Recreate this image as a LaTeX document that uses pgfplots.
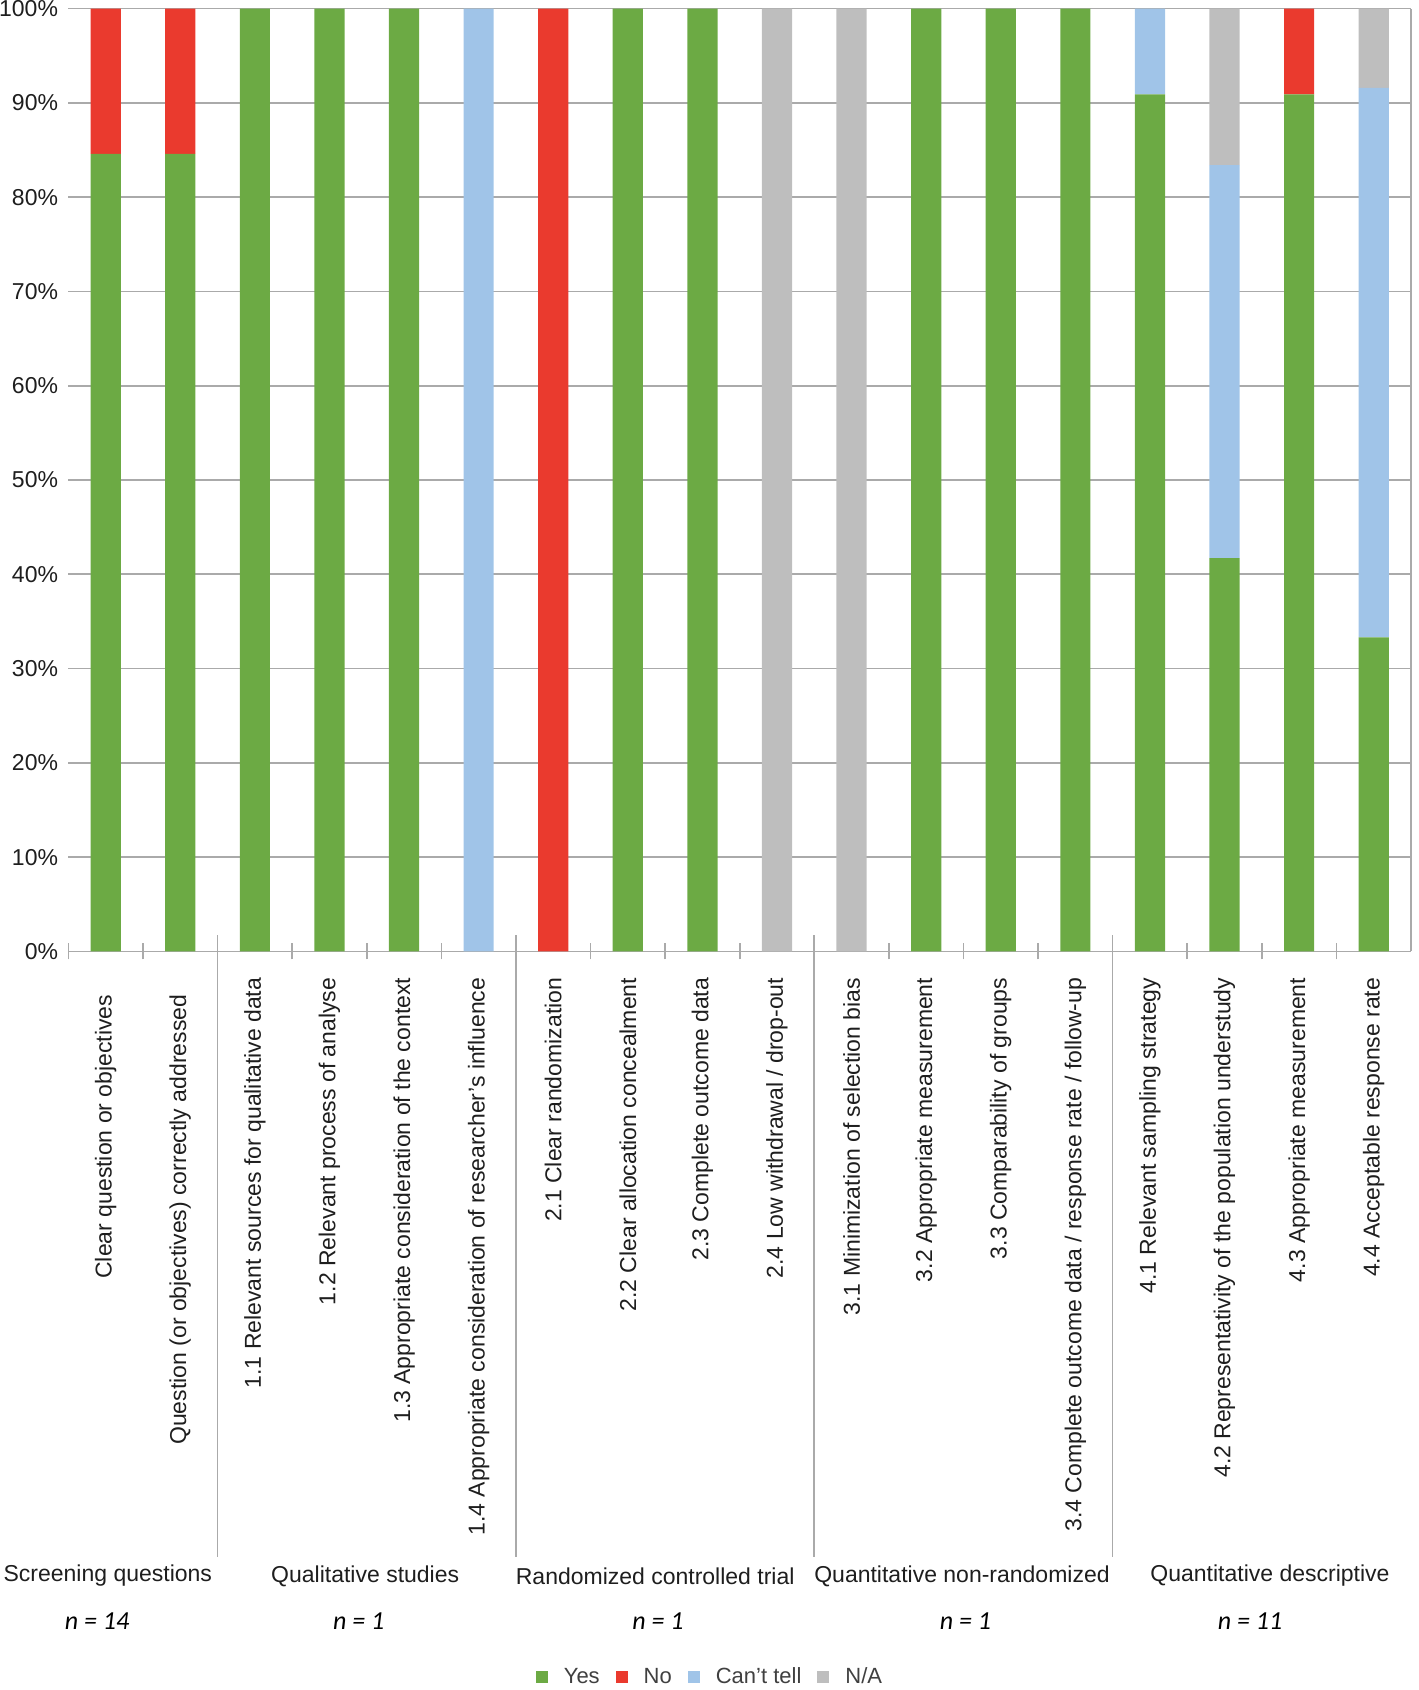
\documentclass[border=0pt]{standalone}
\usepackage{pgfplots}
\pgfplotsset{compat=1.18}
\usepackage{fontspec}
\setmainfont{Liberation Sans}
\newfontfamily\calfont{Carlito}
\definecolor{cyes}{RGB}{108,170,68}
\definecolor{cno}{RGB}{234,58,46}
\definecolor{cct}{RGB}{160,196,232}
\definecolor{cna}{RGB}{190,190,190}
\definecolor{cgrid}{RGB}{170,170,170}
\definecolor{ctxt}{RGB}{30,30,30}
\begin{document}
\begin{tikzpicture}
\useasboundingbox (0,0) rectangle (709pt,845pt);
\begin{axis}[
  at={(34.2pt,369.3pt)}, anchor=south west,
  scale only axis, width=671.3pt, height=471.4pt,
  ybar stacked, bar width=15.1pt,
  xmin=-0.5, xmax=17.5, ymin=0, ymax=100,
  clip=false,
  axis x line*=bottom, axis y line*=left,
  x axis line style={cgrid, line width=0.8pt, -},
  y axis line style={draw=none},
  ytick={0,10,...,100},
  ymajorgrids, grid style={cgrid, line width=0.8pt},
  major tick length=0pt,
  /pgf/number format/assume math mode=true,
  yticklabel={\pgfmathprintnumber{\tick}\%},
  yticklabel style={font=\fontsize{11.5}{13}\selectfont, text=ctxt, inner sep=0pt, xshift=-5pt},
  xtick={0,...,17},
  xticklabels={
    Clear question or objectives\hspace*{8.5pt},
    Question (or objectives) correctly addressed\hspace*{8.5pt},
    1.1 Relevant sources for qualitative data,
    1.2 Relevant process of analyse,
    1.3 Appropriate consideration of the context,
    1.4 Appropriate consideration of researcher’s influence,
    2.1 Clear randomization,
    2.2 Clear allocation concealment,
    2.3 Complete outcome data,
    2.4 Low withdrawal / drop-out,
    3.1 Minimization of selection bias,
    3.2 Appropriate measurement,
    3.3 Comparability of groups,
    3.4 Complete outcome data / response rate / follow-up,
    4.1 Relevant sampling strategy,
    4.2 Representativity of the population understudy,
    4.3 Appropriate measurement,
    4.4 Acceptable response rate},
  xticklabel style={rotate=90, anchor=east, inner sep=0pt, font=\fontsize{11.5}{13}\selectfont, text=ctxt},
  xticklabel shift=13pt,
  extra x ticks={-0.5,0.5,2.5,3.5,4.5,6.5,7.5,8.5,10.5,11.5,12.5,14.5,15.5,16.5},
  extra x tick labels={},
  extra x tick style={major tick length=8pt, tick align=center, tick style={cgrid, line width=0.8pt}, grid=none},
  legend columns=4,
  legend style={draw=none, at={(0.4786,-0.770)}, anchor=center, font=\fontsize{11}{12}\selectfont, text=ctxt!85, column sep=6pt, inner sep=0pt},
  legend image code/.code={\fill[#1] (0pt,-3pt) rectangle (6pt,3pt);},
]
\addplot[fill=cyes, draw=none] coordinates {(0,84.6)(1,84.6)(2,100)(3,100)(4,100)(5,0)(6,0)(7,100)(8,100)(9,0)(10,0)(11,100)(12,100)(13,100)(14,90.9)(15,41.7)(16,90.9)(17,33.3)};
\addplot[fill=cno, draw=none] coordinates {(0,15.4)(1,15.4)(2,0)(3,0)(4,0)(5,0)(6,100)(7,0)(8,0)(9,0)(10,0)(11,0)(12,0)(13,0)(14,0)(15,0)(16,9.1)(17,0)};
\addplot[fill=cct, draw=none] coordinates {(0,0)(1,0)(2,0)(3,0)(4,0)(5,100)(6,0)(7,0)(8,0)(9,0)(10,0)(11,0)(12,0)(13,0)(14,9.1)(15,41.7)(16,0)(17,58.3)};
\addplot[fill=cna, draw=none] coordinates {(0,0)(1,0)(2,0)(3,0)(4,0)(5,0)(6,0)(7,0)(8,0)(9,100)(10,100)(11,0)(12,0)(13,0)(14,0)(15,16.6)(16,0)(17,8.4)};
\legend{Yes, No, Can't tell, N/A}
\draw[cgrid, line width=0.8pt] (rel axis cs:1,0) -- (rel axis cs:1,1);
\pgfplotsinvokeforeach{1.5,5.5,9.5,13.5}{
  \draw[cgrid, line width=0.8pt] (axis cs:#1,1.7) -- (axis cs:#1,-64.2);
}
\end{axis}
\begin{scope}[every node/.style={font=\fontsize{11.5}{13}\selectfont, text=ctxt}]
\node at (53.9pt,57pt) {Screening questions};
\node at (182.6pt,57pt) {Qualitative studies};
\node at (327.6pt,57pt) {Randomized controlled trial};
\node at (481pt,57pt) {Quantitative non-randomized};
\node at (635pt,57pt) {Quantitative descriptive};
\end{scope}
\begin{scope}[every node/.style={font=\calfont\itshape\fontsize{13}{15}\selectfont, text=black}]
\node at (48.5pt,34.5pt) {n = 14};
\node at (179.4pt,34.5pt) {n = 1};
\node at (329pt,34.5pt) {n = 1};
\node at (482.7pt,34.5pt) {n = 1};
\node at (625pt,34.5pt) {n = 11};
\end{scope}
\end{tikzpicture}
\end{document}
